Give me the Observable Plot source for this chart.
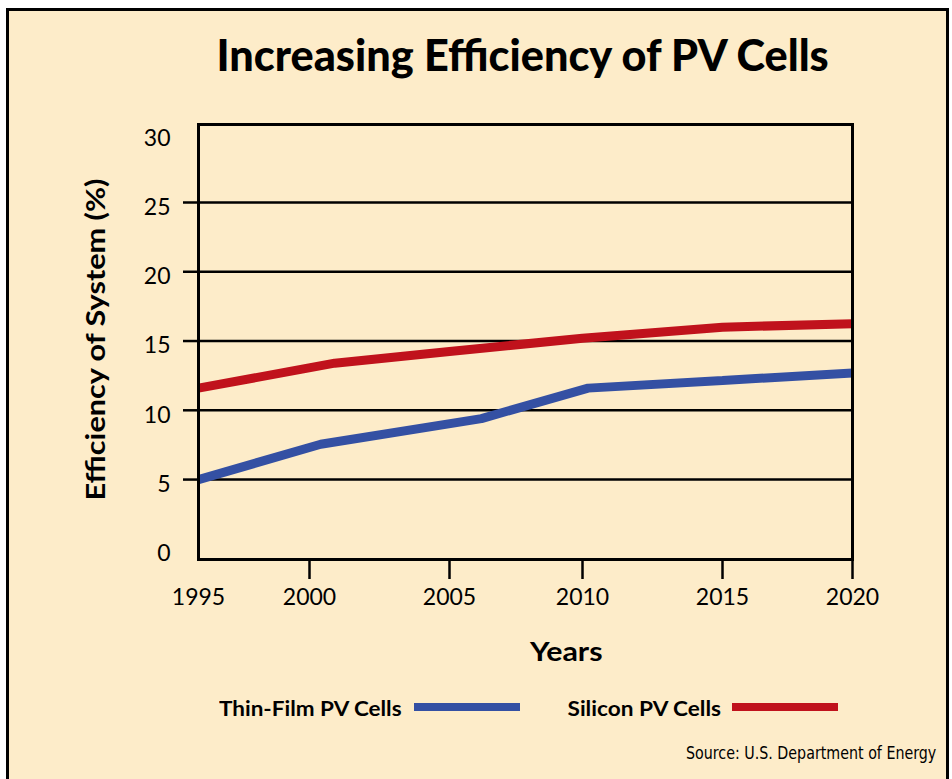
<!DOCTYPE html>
<html>
<head>
<meta charset="utf-8">
<script src="https://cdn.jsdelivr.net/npm/d3@7"></script>
<script src="https://cdn.jsdelivr.net/npm/@observablehq/plot@0.6"></script>
<style>
  html, body { margin: 0; padding: 0; background: #ffffff; }
  body { width: 952px; height: 779px; overflow: hidden; position: relative; }
  #frame { position: absolute; left: 6px; top: 8px; width: 937px; height: 800px;
           border: 3px solid #000; background: #fdecc9; }
  #chart { position: absolute; left: 0; top: 100px; width: 952px; }
  .t { position: absolute; white-space: nowrap; color: #000; line-height: 1;
       transform-origin: center center; }
  .sw { position: absolute; height: 8px; }
  #chart svg [aria-label^="x-axis"] line, #chart svg [aria-label^="x-axis"] path,
  #chart svg [aria-label^="y-axis"] line, #chart svg [aria-label^="y-axis"] path {
    stroke: #000; stroke-width: 2.5px; stroke-opacity: 1;
  }
</style>
</head>
<body>
<div id="frame"></div>
<div id="chart"></div>
<script>
// ---------- data ----------
const titleText = "Increasing Efficiency of PV Cells";
const xTitle = "Years";
const yTitle = "Efficiency of System (%)";
const sourceText = "Source: U.S. Department of Energy";

const axisYears = [1995, 2000, 2005, 2010, 2015, 2020];
const xTickYears = [2000, 2005, 2010, 2015, 2020];
const yLabelValues = [0, 5, 10, 15, 20, 25, 30];
const gridValues = [5, 10, 15, 20, 25];

const seriesNames = ["Thin-Film PV Cells", "Silicon PV Cells"];
const seriesColors = ["#3450a3", "#c0121c"];

const thinFilmYears  = [1995, 2000.4, 2006.2, 2010.2, 2015, 2020];
const thinFilmValues = [5.0, 7.55, 9.4, 11.6, 12.15, 12.7];

const siliconYears  = [1995, 2000.9, 2005, 2010, 2015, 2020];
const siliconValues = [11.6, 13.4, 14.25, 15.2, 16.0, 16.25];

// ---------- build tables ----------
const thinFilm = thinFilmYears.map((year, i) => ({year, value: thinFilmValues[i]}));
const silicon = siliconYears.map((year, i) => ({year, value: siliconValues[i]}));

const tickFont = "Lato, 'Open Sans', sans-serif";

const chart = Plot.plot({
  width: 952,
  height: 520,
  marginTop: 24,
  marginBottom: 61,
  marginLeft: 198,
  marginRight: 100,
  style: {background: "transparent", fontFamily: tickFont, fontSize: "23px", color: "#000", overflow: "visible"},
  x: {type: "linear", domain: axisYears, range: [198, 309, 449, 582, 722, 852],
      ticks: xTickYears, tickSize: 20, tickPadding: 4, tickFormat: () => "", label: null},
  y: {domain: [-0.77, 30.63], ticks: gridValues, tickSize: 15, tickFormat: () => "", label: null},
  marks: [
    Plot.ruleY(gridValues, {stroke: "#000", strokeWidth: 2.5}),
    Plot.line(thinFilm, {x: "year", y: "value", stroke: seriesColors[0], strokeWidth: 9,
                         strokeLinecap: "butt", strokeLinejoin: "miter"}),
    Plot.line(silicon, {x: "year", y: "value", stroke: seriesColors[1], strokeWidth: 9,
                        strokeLinecap: "butt", strokeLinejoin: "miter"}),
    Plot.frame({stroke: "#000", strokeWidth: 3}),
    Plot.text(yLabelValues, {y: d => d, text: d => String(d), frameAnchor: "left",
                             dx: -28, dy: 5, textAnchor: "end", fontSize: 23, fill: "#000"}),
    Plot.text(axisYears, {x: d => d, text: d => String(d), frameAnchor: "bottom",
                          dy: 45, fontSize: 23, fill: "#000"})
  ]
});
document.getElementById("chart").appendChild(chart);

// ---------- HTML texts (title, axis titles, legend, source) ----------
function place(text, {cx, cy, width, font, weight = "700", size, rotate = false}) {
  const el = document.createElement("span");
  el.className = "t";
  el.textContent = text;
  el.style.fontFamily = font;
  el.style.fontWeight = weight;
  el.style.fontSize = size + "px";
  document.body.appendChild(el);
  const w = el.offsetWidth, h = el.offsetHeight;
  el.style.left = (cx - w / 2) + "px";
  el.style.top = (cy - h / 2) + "px";
  const s = width / w;
  el.style.transform = (rotate ? "rotate(-90deg) " : "") + "scaleX(" + s + ")";
  return el;
}
const boldFont = "Lato, 'Open Sans', sans-serif";
place(titleText, {cx: 522, cy: 54, width: 612, font: boldFont, weight: "900", size: 44});
place(yTitle, {cx: 95, cy: 339, width: 322, font: boldFont, size: 27, rotate: true});
place(xTitle, {cx: 566, cy: 650, width: 72, font: boldFont, size: 27});
place(seriesNames[0], {cx: 310.5, cy: 707, width: 183, font: boldFont, size: 21});
place(seriesNames[1], {cx: 644, cy: 707, width: 154, font: boldFont, size: 21});
place(sourceText, {cx: 811, cy: 753, width: 250, font: "'Liberation Sans Narrow', 'DejaVu Sans Condensed', sans-serif", weight: "400", size: 18});

function swatch(color, left, width) {
  const d = document.createElement("div");
  d.className = "sw";
  d.style.left = left + "px";
  d.style.top = "703px";
  d.style.width = width + "px";
  d.style.background = color;
  document.body.appendChild(d);
}
swatch(seriesColors[0], 414, 106);
swatch(seriesColors[1], 732, 106);
</script>
</body>
</html>
